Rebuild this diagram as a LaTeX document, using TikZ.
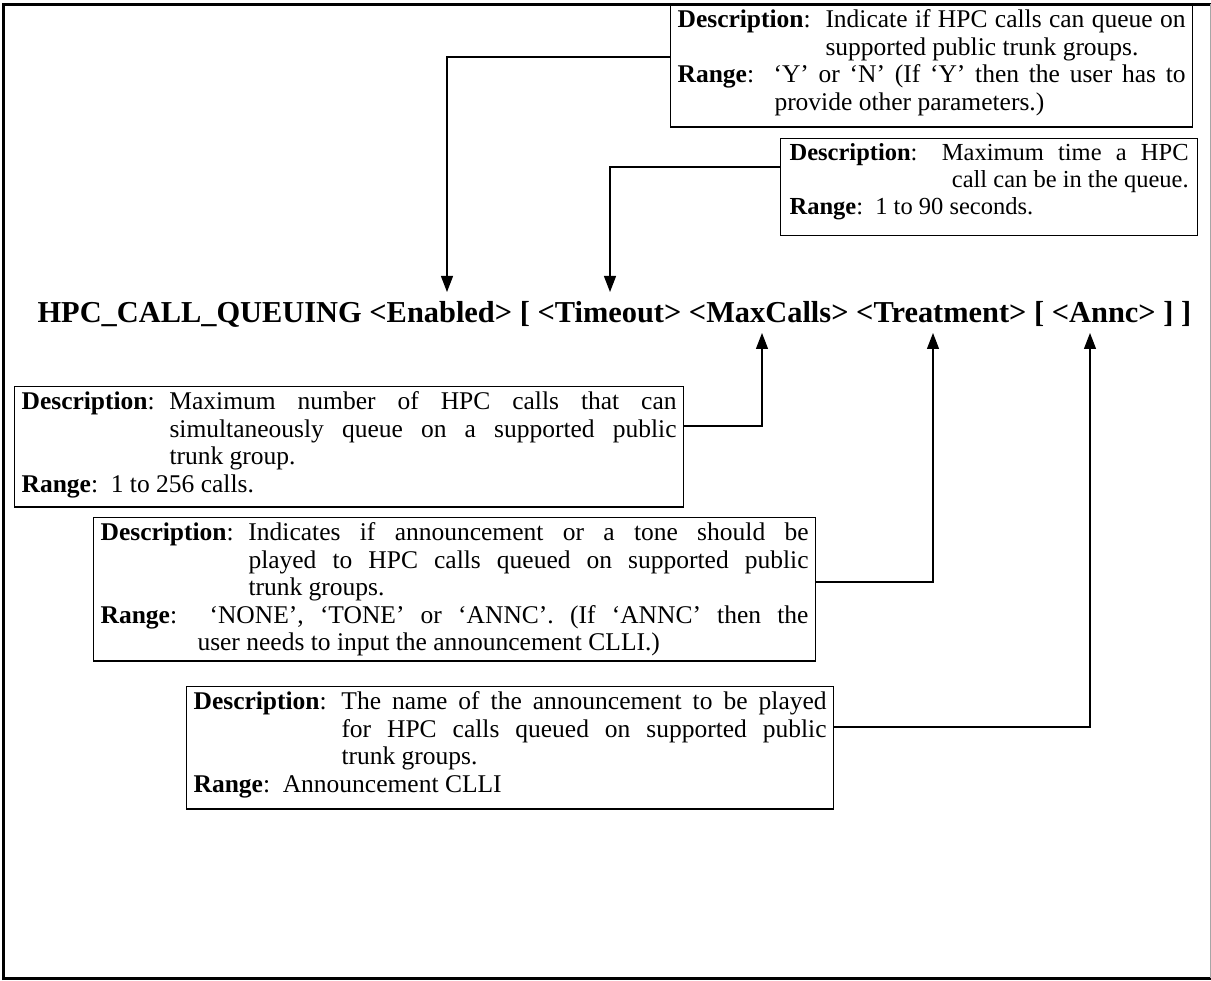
\documentclass[tikz,border=0pt]{standalone}
\usepackage{fontspec}
\setmainfont{Liberation Serif}
\usetikzlibrary{arrows.meta}
% labels that start each paragraph of a description box
\newcommand\desclabel{\makebox[5.8em][l]{\textbf{Description}:}}
\newcommand\rangelabel{\textbf{Range}:\ \ }
% extra room below the last line of a box
\newcommand\tailroom[1]{\rule[-#1]{0pt}{#1}}
\begin{document}
\begin{tikzpicture}[x=1pt,y=-1pt,
  note/.style={draw, line width=1.2pt, anchor=north west, inner xsep=7pt,
    inner ysep=5pt, align=justify, font=\fontsize{25.5}{27.5}\selectfont},
  small note/.style={note, inner xsep=9pt, font=\fontsize{24.5}{27}\selectfont},
  link/.style={line width=1.2pt, -{Triangle[length=16pt,width=12pt]}}]
\useasboundingbox (0,0) rectangle (1211,981);

% outer frame
\draw[line width=3pt] (3.5,980) -- (3.5,4.5) -- (1213,4.5);
\draw[line width=3pt] (2,978.5) -- (1213,978.5);
\draw[line width=1pt, black!35] (1210,4.5) -- (1210,978);

% command syntax line
\node[font=\fontsize{30.4}{36}\selectfont\bfseries, anchor=base west] (cmd) at (34,323)
  {HPC\_CALL\_QUEUING <Enabled> [ <Timeout> <MaxCalls> <Treatment> [ <Annc> ] ]};
\coordinate (pEnabled)   at (447,292);
\coordinate (pTimeout)   at (610,292);
\coordinate (pMaxCalls)  at (762,333);
\coordinate (pTreatment) at (933,333);
\coordinate (pAnnc)      at (1090,333);

% parameter descriptions
\node[note, text width=508pt] (enabled) at (670,4) {\parindent=0pt
  {\hangindent=5.8em\hangafter=1 \desclabel Indicate if HPC calls can queue on\linebreak
   supported public trunk groups.\par}
  {\hangindent=3.8em\hangafter=1 \rangelabel `Y' or `N' (If `Y' then the user has to\linebreak
   provide other parameters.)\tailroom{12pt}\par}};

\node[small note, text width=399pt] (timeout) at (780,138) {\parindent=0pt
  {\textbf{Description}: Maximum time a HPC\linebreak
   \hspace*{\fill}call can be in the queue.\par}
  {\rangelabel 1 to 90 seconds.\tailroom{16pt}\par}};

\node[note, text width=655pt] (maxcalls) at (14,386) {\parindent=0pt
  {\hangindent=5.8em\hangafter=1 \desclabel Maximum number of HPC calls that can\linebreak
   simultaneously queue on a supported public\linebreak
   trunk group.\par}
  {\rangelabel 1 to 256 calls.\tailroom{10pt}\par}};

\node[note, text width=708pt] (treatment) at (93,517) {\parindent=0pt
  {\hangindent=5.8em\hangafter=1 \desclabel Indicates if announcement or a tone should be\linebreak
   played to HPC calls queued on supported public\linebreak
   trunk groups.\par}
  {\hangindent=3.8em\hangafter=1 \rangelabel `NONE', `TONE' or `ANNC'. (If `ANNC' then the\linebreak
   user needs to input the announcement CLLI.)\par}};

\node[note, text width=633pt] (annc) at (186,686) {\parindent=0pt
  {\hangindent=5.8em\hangafter=1 \desclabel The name of the announcement to be played\linebreak
   for HPC calls queued on supported public\linebreak
   trunk groups.\par}
  {\rangelabel Announcement CLLI\tailroom{12pt}\par}};

% connectors
\draw[link] (enabled.west |- 0,57) -| (pEnabled);
\draw[link] (timeout.west |- 0,167) -| (pTimeout);
\draw[link] (maxcalls.east |- 0,426) -| (pMaxCalls);
\draw[link] (treatment.east |- 0,582) -| (pTreatment);
\draw[link] (annc.east |- 0,727) -| (pAnnc);
\end{tikzpicture}
\end{document}
